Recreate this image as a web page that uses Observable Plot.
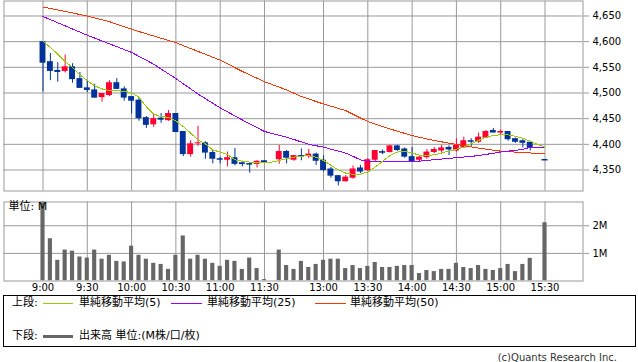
<!DOCTYPE html>
<html><head><meta charset="utf-8">
<script src="https://cdn.jsdelivr.net/npm/d3@7"></script>
<script src="https://cdn.jsdelivr.net/npm/@observablehq/plot@0.6"></script>
<style>
body{margin:0;background:#fff;}
#wrap{position:relative;width:638px;height:362px;overflow:hidden;font-family:"DejaVu Sans","Noto Sans CJK JP",sans-serif;color:#000;}
#wrap svg{position:absolute;left:0;}
.t{position:absolute;font-size:11px;height:14px;line-height:14px;white-space:nowrap;}
.ln{position:absolute;}
</style></head><body><div id="wrap"></div>
<script>
// ---- data ----
const tickSlots  = [0, 6, 12, 18, 24, 30, 38, 44, 50, 56, 62, 68];
const tickLabels = ["9:00","9:30","10:00","10:30","11:00","11:30","13:00","13:30","14:00","14:30","15:00","15:30"];

const candleSlots = [0,1,2,3,4,5,6,7,8,9,10,11,12,13,14,15,16,17,18,19,20,21,22,23,24,25,26,27,28,29,30,
  32,33,34,35,36,37,38,39,40,41,42,43,44,45,46,47,48,49,50,51,52,53,54,55,56,57,58,59,60,61,62,63,64,65,66,68];
const open  = [4600,4561,4544,4542,4551,4528,4510,4506,4491,4495,4520,4508,4493,4486,4452,4438,4451,4446,4460,4425,4380,4401,4403,4384,4372,4369,4374,4364,4362.5,4361,4368,
  4370,4386,4369,4378,4376,4381,4369,4352,4339,4327,4334,4354,4349,4369,4386,4384,4397,4391,4376,4369,4374,4384,4387,4394,4387,4393,4407,4404,4412,4427,4422,4425,4411,4407,4404,4370.3];
const high  = [4600,4577,4559,4574,4557,4540,4524,4517,4499,4524,4528,4512,4493,4490,4454,4458,4460,4466,4460,4425,4407,4435,4405,4389,4375,4385,4392,4367,4362.5,4368,4368,
  4398,4388,4378,4391,4390,4383,4378,4355,4339,4339,4358,4359,4372,4388,4389,4398,4398,4393,4394,4376,4390,4394,4398,4397,4411,4414,4411,4422,4427,4431,4428,4425,4412,4409,4404,4370.3];
const low   = [4502,4524,4521,4539,4519,4509,4501,4490,4482,4493,4507,4484,4459,4445,4431,4433,4441,4445,4423,4376,4375,4396,4371,4362,4362,4356,4358,4356,4344,4354,4367,
  4361,4362,4367,4368,4372,4359,4346,4334,4319,4327,4332,4343,4347,4366,4380,4383,4386,4373,4365,4366,4371,4382,4383,4378,4385,4392,4396,4402,4411,4422,4419,4406,4402,4393,4387,4370];
const close = [4558,4542,4540,4551,4526,4509,4505,4490,4499,4520,4507,4490,4484,4450,4437,4450,4447,4460,4423,4380,4401,4403,4383,4371,4369,4374,4361,4363,4362,4367,4367,
  4386,4373,4378,4377.5,4381,4367,4349,4338,4327,4336,4352,4346,4370,4388,4385,4397,4388,4375,4365,4375,4385,4390,4393,4389,4398,4407,4404,4414,4425,4422,4425,4409,4404,4402,4392,4370];
// volume, millions (9:00 bar runs past the top of the panel)
const volume = [3.0,1.53,0.75,1.12,1.08,0.87,0.83,1.12,0.79,0.93,0.71,0.69,1.26,0.93,0.79,0.64,0.60,0.42,0.93,1.63,0.79,0.93,0.79,0.64,0.53,0.75,0.71,0.42,0.83,0.45,0.05,
  1.12,0.56,0.42,0.71,0.49,0.60,0.75,0.79,0.79,0.45,0.56,0.45,0.53,0.67,0.49,0.49,0.53,0.56,0.56,0.27,0.38,0.34,0.42,0.42,0.64,0.49,0.45,0.56,0.42,0.38,0.45,0.60,0.34,0.60,0.82,2.11];

const ma5Slots = d3.range(0, 69);
const ma5 = [4601,4588.6,4575.6,4561,4550,4535.5,4524,4514,4508,4504.5,
  4504.5,4503,4500.6,4491.5,4473.4,4459,4454,4452.7,4446,4434.6,
  4421.7,4408.7,4401,4389,4385,4380,4370,4367,4365.4,4365.4,
  4365.4,4365.4,4368.6,4372,4375,4377,4377.7,4375,4368.6,4359,
  4350.5,4344,4341.5,4342,4346,4355.7,4367,4378,4385,4387,
  4383,4379,4378,4379.6,4383,4387,4390.6,4394.5,4401,4407.5,
  4414,4417,4419,4418.4,4415.8,4412,4406,4399.6,4394.5];
const ma25Slots = [0,6,12,15,18,21,24,27,30,33,36,38,41,43,44,47,50,53,56,59,62,65,66,68];
const ma25 = [4649,4612.5,4579,4556,4528,4498,4471,4447.5,4425,4414,4400,4394.5,4383,4370,4366,4366,4366,4370,4374,4378,4385,4390,4394.5,4394.5];
const ma50Slots = [0,6,9,12,15,18,21,24,27,30,33,35,38,41,44,47,50,53,56,59,62,65,68];
const ma50 = [4667.5,4650,4639,4624,4611,4598,4581,4564,4542,4522,4506,4493,4478.6,4465.7,4444.3,4430,4417,4407.4,4399.7,4392.6,4386.7,4384,4381.6];

const priceTicks = [4350,4400,4450,4500,4550,4600,4650];
const volTicks = [1, 2];
const volTickLabels = ["1M","2M"];

// ---- styles ----
const UP = "#ff0033", DOWN = "#003399", GRID = "#999999";
const C5 = "#99cc00", C25 = "#9900ff", C50 = "#ff3300", VOLC = "#666666";

const candles = candleSlots.map((s, i) => ({s, o: open[i], h: high[i], l: low[i], c: close[i]}));
const vols = candleSlots.map((s, i) => ({s, v: volume[i]}));
const toLine = (slots, vals) => slots.map((s, i) => ({s, v: vals[i]}));
const col = d => d.c >= d.o ? UP : DOWN;
const labelOf = new Map(tickSlots.map((s, i) => [s, tickLabels[i]]));

const xScale = {type: "linear", domain: [-5.283, 73.147]};
const svgStyle = {fontFamily: "DejaVu Sans, Noto Sans CJK JP, sans-serif", fontSize: "10px", color: "#000", background: "transparent", overflow: "visible"};

const topChart = Plot.plot({
  width: 638, height: 191,
  marginLeft: 3.5, marginRight: 55.5, marginTop: 0.5, marginBottom: 0.5,
  style: svgStyle,
  x: {...xScale, axis: null},
  y: {domain: [4309.1, 4679.2], axis: null},
  marks: [
    Plot.gridX(tickSlots, {stroke: GRID, strokeOpacity: 1}),
    Plot.gridY(priceTicks, {stroke: GRID, strokeOpacity: 1}),
    Plot.frame({stroke: GRID}),
    Plot.ruleX(candles, {x: "s", y1: "l", y2: "h", stroke: col, strokeWidth: 1}),
    Plot.rect(candles, {x1: d => d.s - 0.4, x2: d => d.s + 0.4, y1: d => Math.min(d.o, d.c), y2: d => Math.max(d.o, d.c), fill: col}),
    Plot.ruleY(candles.filter(d => Math.abs(d.o - d.c) < 2), {y: "c", x1: d => d.s - 0.4, x2: d => d.s + 0.4, stroke: col, strokeWidth: 1.5}),
    Plot.line(toLine(ma50Slots, ma50), {x: "s", y: "v", stroke: C50, strokeWidth: 1, shapeRendering: "crispEdges"}),
    Plot.line(toLine(ma25Slots, ma25), {x: "s", y: "v", stroke: C25, strokeWidth: 1, shapeRendering: "crispEdges"}),
    Plot.line(toLine(ma5Slots, ma5), {x: "s", y: "v", stroke: C5, strokeWidth: 1, shapeRendering: "crispEdges"}),
    Plot.axisY(priceTicks, {anchor: "right", tickFormat: d3.format(","), tickSize: 5.5, tickPadding: 4, stroke: GRID, label: null})
  ]
});
topChart.style.top = "0px";

const bottomChart = Plot.plot({
  width: 638, height: 100,
  marginLeft: 3.5, marginRight: 55.5, marginTop: 6.5, marginBottom: 14.5,
  style: svgStyle,
  x: {...xScale, axis: null},
  y: {domain: [0, 2.86], axis: null},
  marks: [
    Plot.gridX(tickSlots, {stroke: GRID, strokeOpacity: 1}),
    Plot.gridY(volTicks, {stroke: GRID, strokeOpacity: 1}),
    Plot.rectY(vols, {x1: d => d.s - 0.28, x2: d => d.s + 0.28, y1: 0, y2: "v", fill: VOLC, clip: true}),
    Plot.frame({stroke: GRID}),
    Plot.text(["単位: M"], {frameAnchor: "top-left", dx: 4.5, dy: 4, text: d => d, textAnchor: "start", lineAnchor: "middle", fontSize: 11, fill: "#000"}),
    Plot.axisX(tickSlots, {tickFormat: d => labelOf.get(d), tickSize: 0, tickPadding: 3, label: null}),
    Plot.axisY(volTicks, {anchor: "right", tickFormat: (d) => volTickLabels[volTicks.indexOf(d)], tickSize: 5.5, tickPadding: 4, stroke: GRID, label: null})
  ]
});
bottomChart.style.top = "195px";

const wrap = document.getElementById("wrap");
wrap.appendChild(topChart);
wrap.appendChild(bottomChart);

// ---- legend ----
function el(cls, css, txt) {
  const e = document.createElement("div");
  e.className = cls; e.style.cssText = css;
  if (txt) e.textContent = txt;
  wrap.appendChild(e);
}
el("ln", "left:3px;top:295px;width:633px;height:52px;box-sizing:border-box;border:1px solid #000;");
el("t", "left:12px;top:296px;", "上段:");
el("ln", `left:43px;top:303px;width:30px;height:1px;background:${C5};`);
el("t", "left:79px;top:296px;", "単純移動平均(5)");
el("ln", `left:171px;top:303px;width:31px;height:1px;background:${C25};`);
el("t", "left:207px;top:296px;", "単純移動平均(25)");
el("ln", `left:315px;top:303px;width:31px;height:1px;background:${C50};`);
el("t", "left:350px;top:296px;", "単純移動平均(50)");
el("t", "left:12px;top:329px;", "下段:");
el("ln", `left:43px;top:335px;width:30px;height:3px;background:${VOLC};`);
el("t", "left:79px;top:329px;", "出来高 単位:(M株/口/枚)");
el("t", "right:21px;top:351px;font-size:10px;color:#333;", "(c)Quants Research Inc.");
</script>
</body></html>
